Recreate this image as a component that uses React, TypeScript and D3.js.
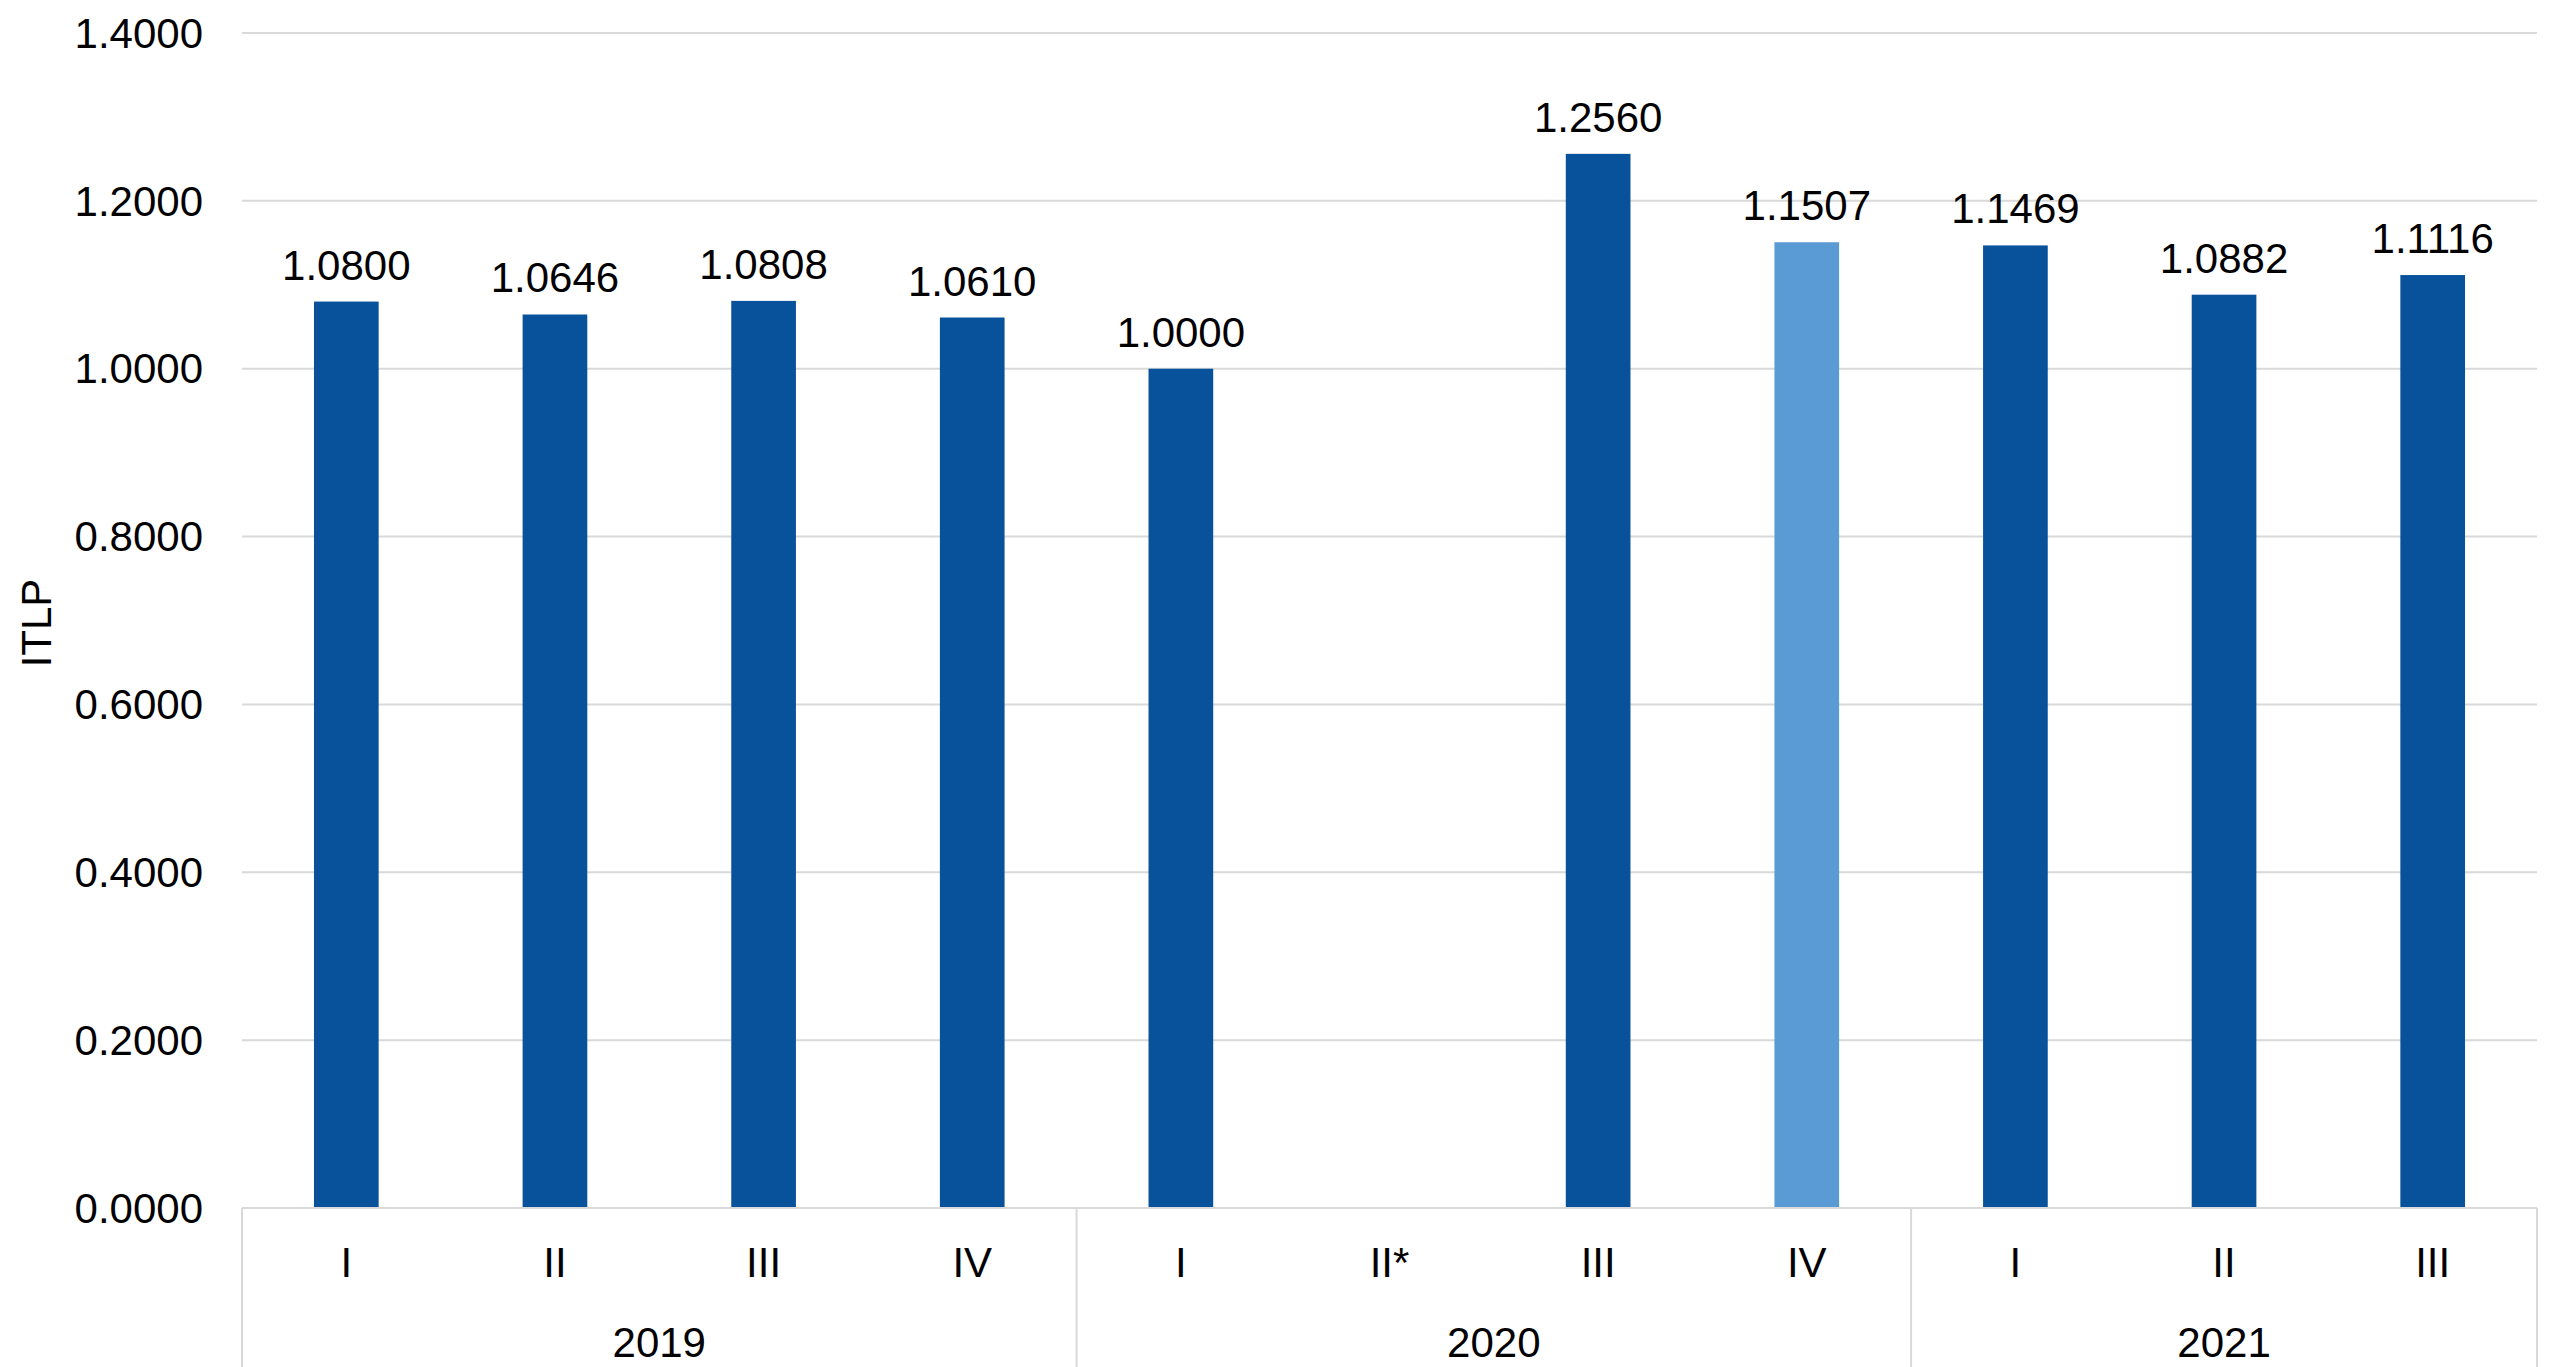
import React from "react";
import * as d3 from "d3";

const quarters = ["I", "II", "III", "IV", "I", "II*", "III", "IV", "I", "II", "III"];
const values: (number | null)[] = [1.08, 1.0646, 1.0808, 1.061, 1.0, null, 1.256, 1.1507, 1.1469, 1.0882, 1.1116];
const highlighted = [false, false, false, false, false, false, false, true, false, false, false];
const years = ["2019", "2020", "2021"];
const yearCounts = [4, 4, 3];
const yTicks = [0, 0.2, 0.4, 0.6, 0.8, 1.0, 1.2, 1.4];

const W = 2550;
const H = 1367;
const left = 242;
const right = 2537;
const top = 33;
const baseline = 1208;
const FONT = "'Liberation Sans', Arial, Helvetica, sans-serif";
const DARK = "#08529C";
const LIGHT = "#5B9BD5";
const GRID = "#D9D9D9";

export default function App() {
  const x = d3
    .scaleBand<number>()
    .domain(d3.range(quarters.length))
    .range([left, right])
    .paddingInner(0)
    .paddingOuter(0);
  const y = d3.scaleLinear().domain([0, 1.4]).range([baseline, top]);
  const barW = x.bandwidth() * 0.31;
  const fmt = d3.format(".4f");

  let acc = 0;
  const groups = years.map((yr, i) => {
    const start = acc;
    acc += yearCounts[i];
    return { yr, start, end: acc };
  });
  const xEdge = (i: number) => (i >= quarters.length ? right : (x(i) as number));

  return (
    <svg
      width={W}
      height={H}
      style={{ position: "absolute", left: 0, top: 0, background: "#fff" }}
      fontFamily={FONT}
    >
      {yTicks.map((t) => (
        <g key={t}>
          {t > 0 && (
            <line x1={left} x2={right} y1={y(t)} y2={y(t)} stroke={GRID} strokeWidth={2} />
          )}
          <text x={203} y={y(t)} dy="0.35em" textAnchor="end" fontSize={42} fill="#000">
            {fmt(t)}
          </text>
        </g>
      ))}

      {values.map((v, i) =>
        v == null ? null : (
          <g key={i}>
            <rect
              x={(x(i) as number) + x.bandwidth() / 2 - barW / 2}
              y={y(v)}
              width={barW}
              height={baseline - y(v)}
              fill={highlighted[i] ? LIGHT : DARK}
            />
            <text
              x={(x(i) as number) + x.bandwidth() / 2}
              y={y(v) - 22}
              textAnchor="middle"
              fontSize={42}
              fill="#000"
            >
              {fmt(v)}
            </text>
          </g>
        )
      )}

      <line x1={left} x2={right} y1={baseline} y2={baseline} stroke={GRID} strokeWidth={2} />
      {groups.map((g) => (
        <line key={"s" + g.yr} x1={xEdge(g.start)} x2={xEdge(g.start)} y1={baseline} y2={H} stroke={GRID} strokeWidth={2} />
      ))}
      <line x1={right} x2={right} y1={baseline} y2={H} stroke={GRID} strokeWidth={2} />
      {quarters.map((q, i) => (
        <text
          key={"q" + i}
          x={(x(i) as number) + x.bandwidth() / 2}
          y={1262}
          dy="0.35em"
          textAnchor="middle"
          fontSize={42}
          fill="#000"
        >
          {q}
        </text>
      ))}
      {groups.map((g) => (
        <text
          key={"y" + g.yr}
          x={(xEdge(g.start) + xEdge(g.end)) / 2}
          y={1342}
          dy="0.35em"
          textAnchor="middle"
          fontSize={42}
          fill="#000"
        >
          {g.yr}
        </text>
      ))}

      <text
        transform={`translate(36, 623) rotate(-90)`}
        textAnchor="middle"
        dy="0.35em"
        fontSize={42}
        fill="#000"
      >
        ITLP
      </text>
    </svg>
  );
}
